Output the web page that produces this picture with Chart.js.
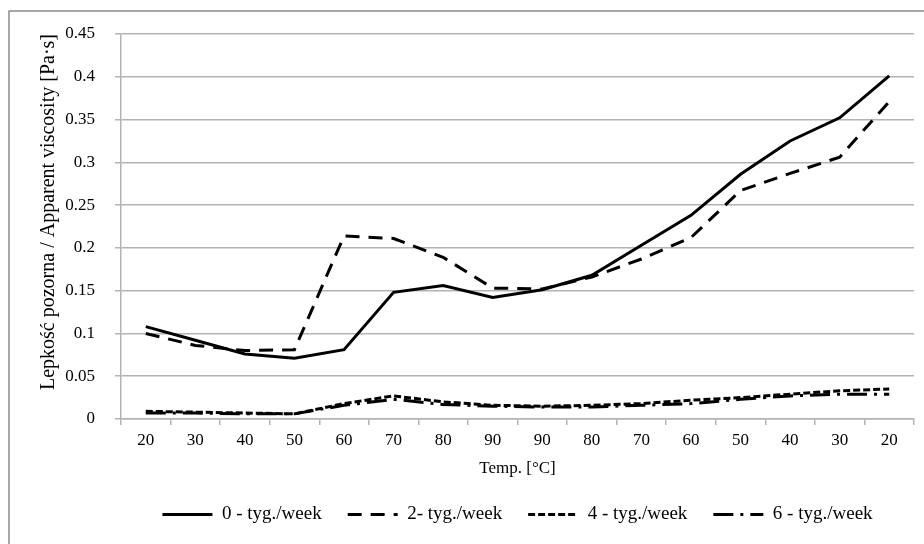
<!DOCTYPE html>
<html>
<head>
<meta charset="utf-8">
<script src="https://cdn.jsdelivr.net/npm/chart.js@4"></script>
<style>
html,body{margin:0;padding:0;background:#fff;overflow:hidden;}
#wrap{position:relative;width:924px;height:544px;}
canvas{display:block;}
</style>
</head>
<body>
<div id="wrap"><canvas id="c" width="924" height="544"></canvas></div>
<script>
const categories = ["20","30","40","50","60","70","80","90","90","80","70","60","50","40","30","20"];
const week0 = [0.108,0.092,0.076,0.071,0.081,0.148,0.156,0.142,0.151,0.168,0.203,0.238,0.286,0.325,0.352,0.401];
const week2 = [0.100,0.086,0.080,0.081,0.214,0.211,0.189,0.153,0.152,0.166,0.187,0.212,0.267,0.287,0.306,0.371];
const week4 = [0.009,0.008,0.007,0.006,0.018,0.027,0.020,0.016,0.015,0.016,0.018,0.022,0.025,0.029,0.033,0.035];
const week6 = [0.007,0.007,0.006,0.006,0.016,0.023,0.017,0.015,0.014,0.014,0.016,0.018,0.023,0.027,0.029,0.029];
const seriesNames = ["0 - tyg./week","2- tyg./week","4 - tyg./week","6 - tyg./week"];
const yTicks = [0,0.05,0.1,0.15,0.2,0.25,0.3,0.35,0.4,0.45];

const FONT = "'Liberation Serif','Times New Roman',serif";
const GRID = '#b3b3b3';

const framePlugin = {
  id:'frame',
  beforeDraw(chart){
    const ctx = chart.ctx;
    ctx.save();
    ctx.fillStyle='#fff';
    ctx.fillRect(0,0,chart.width,chart.height);
    ctx.strokeStyle='#8a8a8a';
    ctx.lineWidth=1.5;
    ctx.beginPath();
    ctx.moveTo(9, chart.height+5);
    ctx.lineTo(9, 11);
    ctx.lineTo(chart.width+5, 11);
    ctx.stroke();
    ctx.restore();
  }
};

function ds(label, data, dash){
  return {label, data, borderColor:'#000', backgroundColor:'#000', borderWidth:3,
    borderDash:dash, pointRadius:0, tension:0, fill:false, borderCapStyle:'butt'};
}

new Chart(document.getElementById('c'), {
  type:'line',
  data:{
    labels: categories,
    datasets:[
      ds(seriesNames[0], week0, []),
      ds(seriesNames[1], week2, [14,9]),
      ds(seriesNames[2], week4, [7,3]),
      ds(seriesNames[3], week6, [20,7,3,7])
    ]
  },
  options:{
    responsive:false,
    animation:false,
    devicePixelRatio:1,
    layout:{padding:{top:34,right:10,bottom:10,left:0}},
    plugins:{
      tooltip:{enabled:false},
      legend:{
        position:'bottom',
        fullSize:false,
        labels:{
          usePointStyle:true,
          pointStyle:'line',
          pointStyleWidth:50,
          boxHeight:10,
          color:'#000',
          padding:26,
          font:{family:FONT,size:19},
          generateLabels(chart){
            const items = Chart.defaults.plugins.legend.labels.generateLabels(chart);
            return items.map(it=>{
              const d = chart.data.datasets[it.datasetIndex];
              it.lineDash = d.borderDash;
              it.lineWidth = d.borderWidth;
              it.strokeStyle = d.borderColor;
              it.lineCap = 'butt';
              return it;
            });
          }
        }
      }
    },
    scales:{
      x:{
        offset:true,
        grid:{offset:true, drawOnChartArea:false, drawTicks:true, tickLength:6, color:GRID, lineWidth:1.5},
        border:{color:GRID, width:1.5},
        ticks:{color:'#000', font:{family:FONT,size:17}, maxRotation:0, autoSkip:false, padding:5},
        title:{display:true, text:'Temp. [°C]', color:'#000', font:{family:FONT,size:17}, padding:{top:4,bottom:0}},
        afterFit(s){ s.height = 60; }
      },
      y:{
        min:0, max:0.45,
        afterBuildTicks(s){ s.ticks = yTicks.map(v=>({value:v})); },
        grid:{color:GRID, lineWidth:1.5, drawTicks:true, tickLength:6},
        border:{color:GRID, width:1.5},
        ticks:{color:'#000', font:{family:FONT,size:17}, padding:20,
          callback:(v)=>String(parseFloat(v.toFixed(2)))},
        title:{display:true, align:'end', text:'Lepkość pozorna / Apparent viscosity [Pa·s]', color:'#000', font:{family:FONT,size:20}, padding:{top:37,bottom:0}},
        afterFit(s){ s.width = 121; }
      }
    }
  },
  plugins:[framePlugin]
});
</script>
</body>
</html>
